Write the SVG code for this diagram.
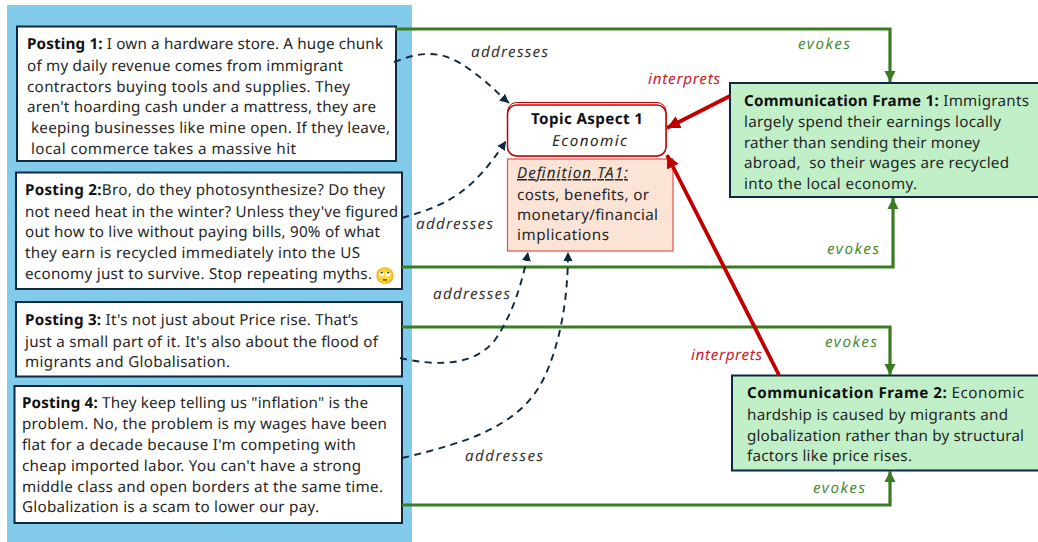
<svg xmlns="http://www.w3.org/2000/svg" width="1038" height="542" viewBox="0 0 1038 542">
<style>
text{font-family:"Noto Sans","Open Sans","Liberation Sans",sans-serif;font-size:15.200px;fill:#262626;text-rendering:geometricPrecision}
.b{font-weight:700;fill:#111}
.box{fill:#fff;stroke:#0e2841;stroke-width:2}
.frame{fill:#c1f0c8;stroke:#0e2841;stroke-width:2}
.g{fill:none;stroke:#3a7c22;stroke-width:3.200}
.r{fill:none;stroke:#c00000;stroke-width:3.800}
.d{fill:none;stroke:#0e2841;stroke-width:1.900;stroke-dasharray:7 5.500}
.al{font-style:italic;fill:#333}
.el{font-style:italic;fill:#4a8c35}
.il{font-style:italic;fill:#d0202a}
</style>
<defs>
<marker id="ag" markerUnits="userSpaceOnUse" markerWidth="12" markerHeight="12" refX="11" refY="6" orient="auto"><path d="M0 0.500L11 6L0 11.500z" fill="#3a7c22"/></marker>
<marker id="ar" markerUnits="userSpaceOnUse" markerWidth="14" markerHeight="14" refX="13" refY="7" orient="auto"><path d="M0 0.500L13 7L0 13.500z" fill="#c00000"/></marker>
<marker id="ad" markerUnits="userSpaceOnUse" markerWidth="10" markerHeight="10" refX="9" refY="5" orient="auto"><path d="M0 0.500L9 5L0 9.500z" fill="#0e2841"/></marker>
</defs>
<rect id="panel" x="7" y="5" width="405" height="537" fill="#83cbeb"/>
<g id="posting1">
<rect class="box" x="17" y="26.500" width="379" height="134.500"/>
<text x="27" y="49" textLength="356"><tspan class="b">Posting 1:</tspan> I own a hardware store. A huge chunk</text>
<text x="27" y="71" textLength="316">of my daily revenue comes from immigrant</text>
<text x="27" y="91.500" textLength="323">contractors buying tools and supplies. They</text>
<text x="27" y="112" textLength="349">aren't hoarding cash under a mattress, they are</text>
<text x="31" y="133" textLength="359">keeping businesses like mine open. If they leave,</text>
<text x="31" y="153.500" textLength="265">local commerce takes a massive hit</text>
</g>
<g id="posting2">
<rect class="box" x="16" y="172.500" width="386" height="116.500"/>
<text x="25" y="195" textLength="360"><tspan class="b">Posting 2:</tspan>Bro, do they photosynthesize? Do they</text>
<text x="25" y="216.500" textLength="373">not need heat in the winter? Unless they've figured</text>
<text x="25" y="237" textLength="355">out how to live without paying bills, 90% of what</text>
<text x="25" y="258" textLength="335">they earn is recycled immediately into the US</text>
<text x="25" y="279" textLength="347">economy just to survive. Stop repeating myths.</text>
<text x="375" y="281" style="font-family:'Noto Color Emoji','Noto Sans',sans-serif;font-size:16px">🙄</text>
</g>
<g id="posting3">
<rect class="box" x="16" y="302" width="386" height="74.500"/>
<text x="25" y="325" textLength="333"><tspan class="b">Posting 3:</tspan> It's not just about Price rise. That’s</text>
<text x="25" y="346.500" textLength="353">just a small part of it. It's also about the flood of</text>
<text x="25" y="367" textLength="205">migrants and Globalisation.</text>
</g>
<g id="posting4">
<rect class="box" x="14.500" y="386" width="387.500" height="137"/>
<text x="22" y="408" textLength="346"><tspan class="b">Posting 4:</tspan> They keep telling us "inflation" is the</text>
<text x="22" y="429" textLength="365">problem. No, the problem is my wages have been</text>
<text x="22" y="450" textLength="334">flat for a decade because I'm competing with</text>
<text x="22" y="471" textLength="339">cheap imported labor. You can't have a strong</text>
<text x="22" y="492" textLength="361">middle class and open borders at the same time.</text>
<text x="22" y="512" textLength="297">Globalization is a scam to lower our pay.</text>
</g>
<g id="definition">
<rect x="507.500" y="159" width="165.500" height="92" fill="#fbe3d6" stroke="#e0524a" stroke-width="1.200"/>
<text x="517" y="178" textLength="111" font-style="italic" text-decoration="underline">Definition TA1:</text>
<text x="517" y="200" textLength="132">costs, benefits, or</text>
<text x="517" y="220" textLength="141">monetary/financial</text>
<text x="517" y="240" textLength="92">implications</text>
</g>
<g id="topic">
<rect x="507.500" y="102.500" width="158.500" height="53.500" rx="9" fill="#fff" stroke="#c00000" stroke-width="1"/>
<rect x="507.500" y="105" width="158.500" height="51" rx="9" fill="#fff" stroke="#c00000" stroke-width="1.500"/>
<text x="531" y="124" textLength="112" class="b">Topic Aspect 1</text>
<text x="552" y="146" textLength="75" font-style="italic">Economic</text>
</g>
<g id="frame1">
<rect class="frame" x="730" y="83" width="310" height="114"/>
<text x="744" y="106" textLength="285"><tspan class="b">Communication Frame 1:</tspan> Immigrants</text>
<text x="744" y="127" textLength="257">largely spend their earnings locally</text>
<text x="744" y="148" textLength="236">rather than sending their money</text>
<text x="744" y="168" textLength="265" xml:space="preserve">abroad,  so their wages are recycled</text>
<text x="744" y="189" textLength="173">into the local economy.</text>
</g>
<g id="frame2">
<rect class="frame" x="732" y="375.500" width="308" height="95"/>
<text x="747" y="398" textLength="277"><tspan class="b">Communication Frame 2:</tspan> Economic</text>
<text x="747" y="420" textLength="261">hardship is caused by migrants and</text>
<text x="747" y="441" textLength="277">globalization rather than by structural</text>
<text x="747" y="461" textLength="165">factors like price rises.</text>
</g>
<g id="connectors">
<path class="g" marker-end="url(#ag)" d="M395 29H890V82"/>
<path class="g" marker-end="url(#ag)" d="M402 267H893V198"/>
<path class="g" marker-end="url(#ag)" d="M402 327H890V375"/>
<path class="g" marker-end="url(#ag)" d="M402 505H890V471"/>
<path class="r" marker-end="url(#ar)" d="M730 96L667 128"/>
<path class="r" marker-end="url(#ar)" d="M779 375L667 155"/>
<path class="d" marker-end="url(#ad)" d="M394 62C425 50 445 50 473 72C490 84 497 93 509 103"/>
<path class="d" marker-end="url(#ad)" d="M402 218C450 204 472 192 506 141"/>
<path class="d" marker-end="url(#ad)" d="M400 358C440 367 475 365 495 340C512 315 522 285 528 252"/>
<path class="d" marker-end="url(#ad)" d="M402 458C470 442 520 425 543 380C560 345 568 300 568 252"/>
</g>
<g id="labels">
<text class="al" x="471" y="57" textLength="77">addresses</text>
<text class="al" x="416" y="229" textLength="77">addresses</text>
<text class="al" x="433" y="299" textLength="77">addresses</text>
<text class="al" x="465" y="461" textLength="78">addresses</text>
<text class="el" x="798" y="49" textLength="52">evokes</text>
<text class="el" x="827" y="254" textLength="52">evokes</text>
<text class="el" x="825" y="347" textLength="52">evokes</text>
<text class="el" x="813" y="493" textLength="52">evokes</text>
<text class="il" x="648" y="84" textLength="72">interprets</text>
<text class="il" x="691" y="360" textLength="71">interprets</text>
</g>
</svg>
